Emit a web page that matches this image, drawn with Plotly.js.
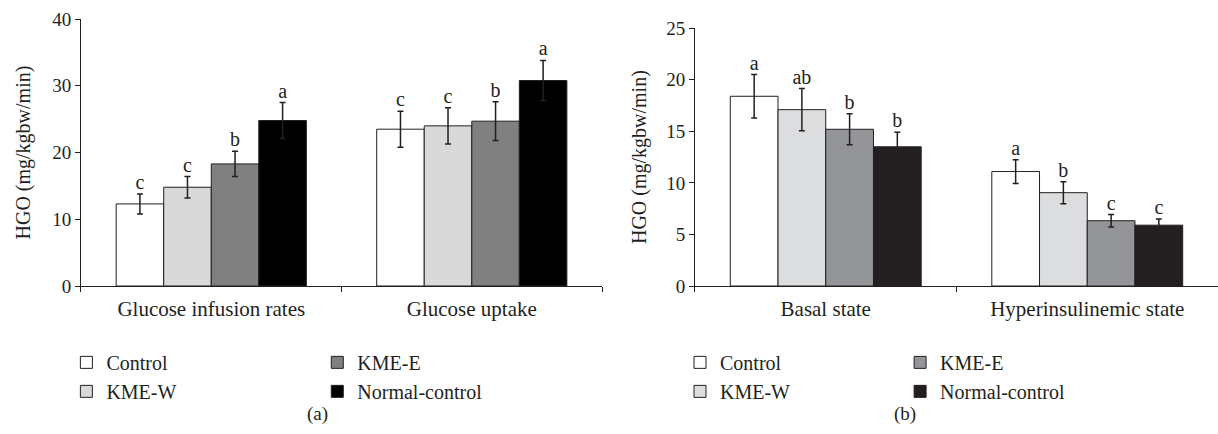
<!DOCTYPE html>
<html>
<head>
<meta charset="utf-8">
<script src="https://cdn.plot.ly/plotly-3.0.1.min.js"></script>
<style>html,body{margin:0;padding:0;background:#fff;}#chart{width:1218px;height:434px;}</style>
</head>
<body>
<div id="chart"></div>
<script>
// ---- data ----
const groups = ["Control", "KME-W", "KME-E", "Normal-control"];
const catsA = ["Glucose infusion rates", "Glucose uptake"];
const catsB = ["Basal state", "Hyperinsulinemic state"];

const valsA = {
  "Control": [12.3, 23.5],
  "KME-W": [14.8, 24.0],
  "KME-E": [18.3, 24.7],
  "Normal-control": [24.8, 30.8]
};
const errA = {
  "Control": [1.5, 2.7],
  "KME-W": [1.6, 2.7],
  "KME-E": [1.9, 2.9],
  "Normal-control": [2.7, 3.0]
};
const lettersA = {
  "Control": ["c", "c"],
  "KME-W": ["c", "c"],
  "KME-E": ["b", "b"],
  "Normal-control": ["a", "a"]
};

const valsB = {
  "Control": [18.4, 11.1],
  "KME-W": [17.1, 9.05],
  "KME-E": [15.2, 6.33],
  "Normal-control": [13.5, 5.9]
};
const errB = {
  "Control": [2.1, 1.15],
  "KME-W": [2.05, 1.07],
  "KME-E": [1.5, 0.6],
  "Normal-control": [1.4, 0.6]
};
const lettersB = {
  "Control": ["a", "a"],
  "KME-W": ["ab", "b"],
  "KME-E": ["b", "c"],
  "Normal-control": ["b", "c"]
};

const colorsA = {"Control": "#ffffff", "KME-W": "#d9d9d9", "KME-E": "#808080", "Normal-control": "#000000"};
const colorsB = {"Control": "#ffffff", "KME-W": "#dcdddf", "KME-E": "#939598", "Normal-control": "#231f20"};
// legend placement: column 1 = Control, KME-W ; column 2 = KME-E, Normal-control
const legendColA = {"Control": "legend", "KME-W": "legend", "KME-E": "legend2", "Normal-control": "legend2"};
const legendColB = {"Control": "legend3", "KME-W": "legend3", "KME-E": "legend4", "Normal-control": "legend4"};

const ink = "#231f20";
const FONT = "Liberation Serif, Times New Roman, serif";
const traces = [];

function addPanel(cats, vals, errs, letters, colors, legendMap, xa, ya) {
  groups.forEach(g => {
    traces.push({
      type: "bar", name: g, x: cats, y: vals[g],
      xaxis: xa, yaxis: ya, legend: legendMap[g],
      marker: {color: colors[g], line: {color: ink, width: 1}},
      error_y: {type: "data", array: errs[g], visible: true, color: ink, thickness: 1.5, width: 3},
      hoverinfo: "skip"
    });
  });
  groups.forEach(g => {
    traces.push({
      type: "scatter", mode: "text", x: cats,
      y: vals[g].map((v, i) => v + errs[g][i]),
      text: letters[g], textposition: "top center",
      textfont: {family: FONT, size: 20, color: ink},
      xaxis: xa, yaxis: ya, showlegend: false, hoverinfo: "skip", cliponaxis: false
    });
  });
}
addPanel(catsA, valsA, errA, lettersA, colorsA, legendColA, "x", "y");
addPanel(catsB, valsB, errB, lettersB, colorsB, legendColB, "x2", "y2");

const axisCommon = {
  showline: true, linecolor: ink, linewidth: 1, ticks: "outside", ticklen: 5, tickcolor: ink,
  showgrid: false, zeroline: false, tickfont: {family: FONT, size: 19, color: ink}
};
const xFont = {family: FONT, size: 21, color: ink};
const titleFont = {family: FONT, size: 20, color: ink};
const legendCommon = {
  orientation: "v", xanchor: "left", yanchor: "top", bgcolor: "rgba(0,0,0,0)",
  font: {family: FONT, size: 20, color: ink}, tracegroupgap: 0, itemwidth: 30
};

const layout = {
  width: 1218, height: 434,
  margin: {l: 0, r: 0, t: 0, b: 0},
  paper_bgcolor: "#fff", plot_bgcolor: "#fff",
  barmode: "group", bargap: 0.27, bargroupgap: 0,
  scattermode: "group", scattergap: 0.27,
  font: {family: FONT, color: ink},
  xaxis: Object.assign({}, axisCommon, {domain: [0.0665, 0.4943], anchor: "y", tickson: "boundaries", type: "category", tickfont: xFont, ticklabelstandoff: 4}),
  yaxis: Object.assign({}, axisCommon, {domain: [0.341, 0.956], anchor: "x", range: [0, 40], dtick: 10,
    title: {text: "HGO (mg/kgbw/min)", font: titleFont, standoff: 16}}),
  xaxis2: Object.assign({}, axisCommon, {domain: [0.5706, 1.0], anchor: "y2", tickson: "boundaries", type: "category", tickfont: xFont, ticklabelstandoff: 4}),
  yaxis2: Object.assign({}, axisCommon, {domain: [0.341, 0.935], anchor: "x2", range: [0, 25], dtick: 5,
    title: {text: "HGO (mg/kgbw/min)", font: titleFont, standoff: 14}}),
  legend: Object.assign({}, legendCommon, {x: 0.0545, y: 0.21}),
  legend2: Object.assign({}, legendCommon, {x: 0.2605, y: 0.21}),
  legend3: Object.assign({}, legendCommon, {x: 0.5583, y: 0.21}),
  legend4: Object.assign({}, legendCommon, {x: 0.739, y: 0.21}),
  annotations: [
    {text: "(a)", xref: "paper", yref: "paper", x: 0.2505, y: 0.046, yanchor: "middle", showarrow: false, font: {family: FONT, size: 19, color: ink}},
    {text: "(b)", xref: "paper", yref: "paper", x: 0.7537, y: 0.046, yanchor: "middle", showarrow: false, font: {family: FONT, size: 19, color: ink}}
  ]
};

Plotly.newPlot("chart", traces, layout, {staticPlot: true});
</script>
</body>
</html>
